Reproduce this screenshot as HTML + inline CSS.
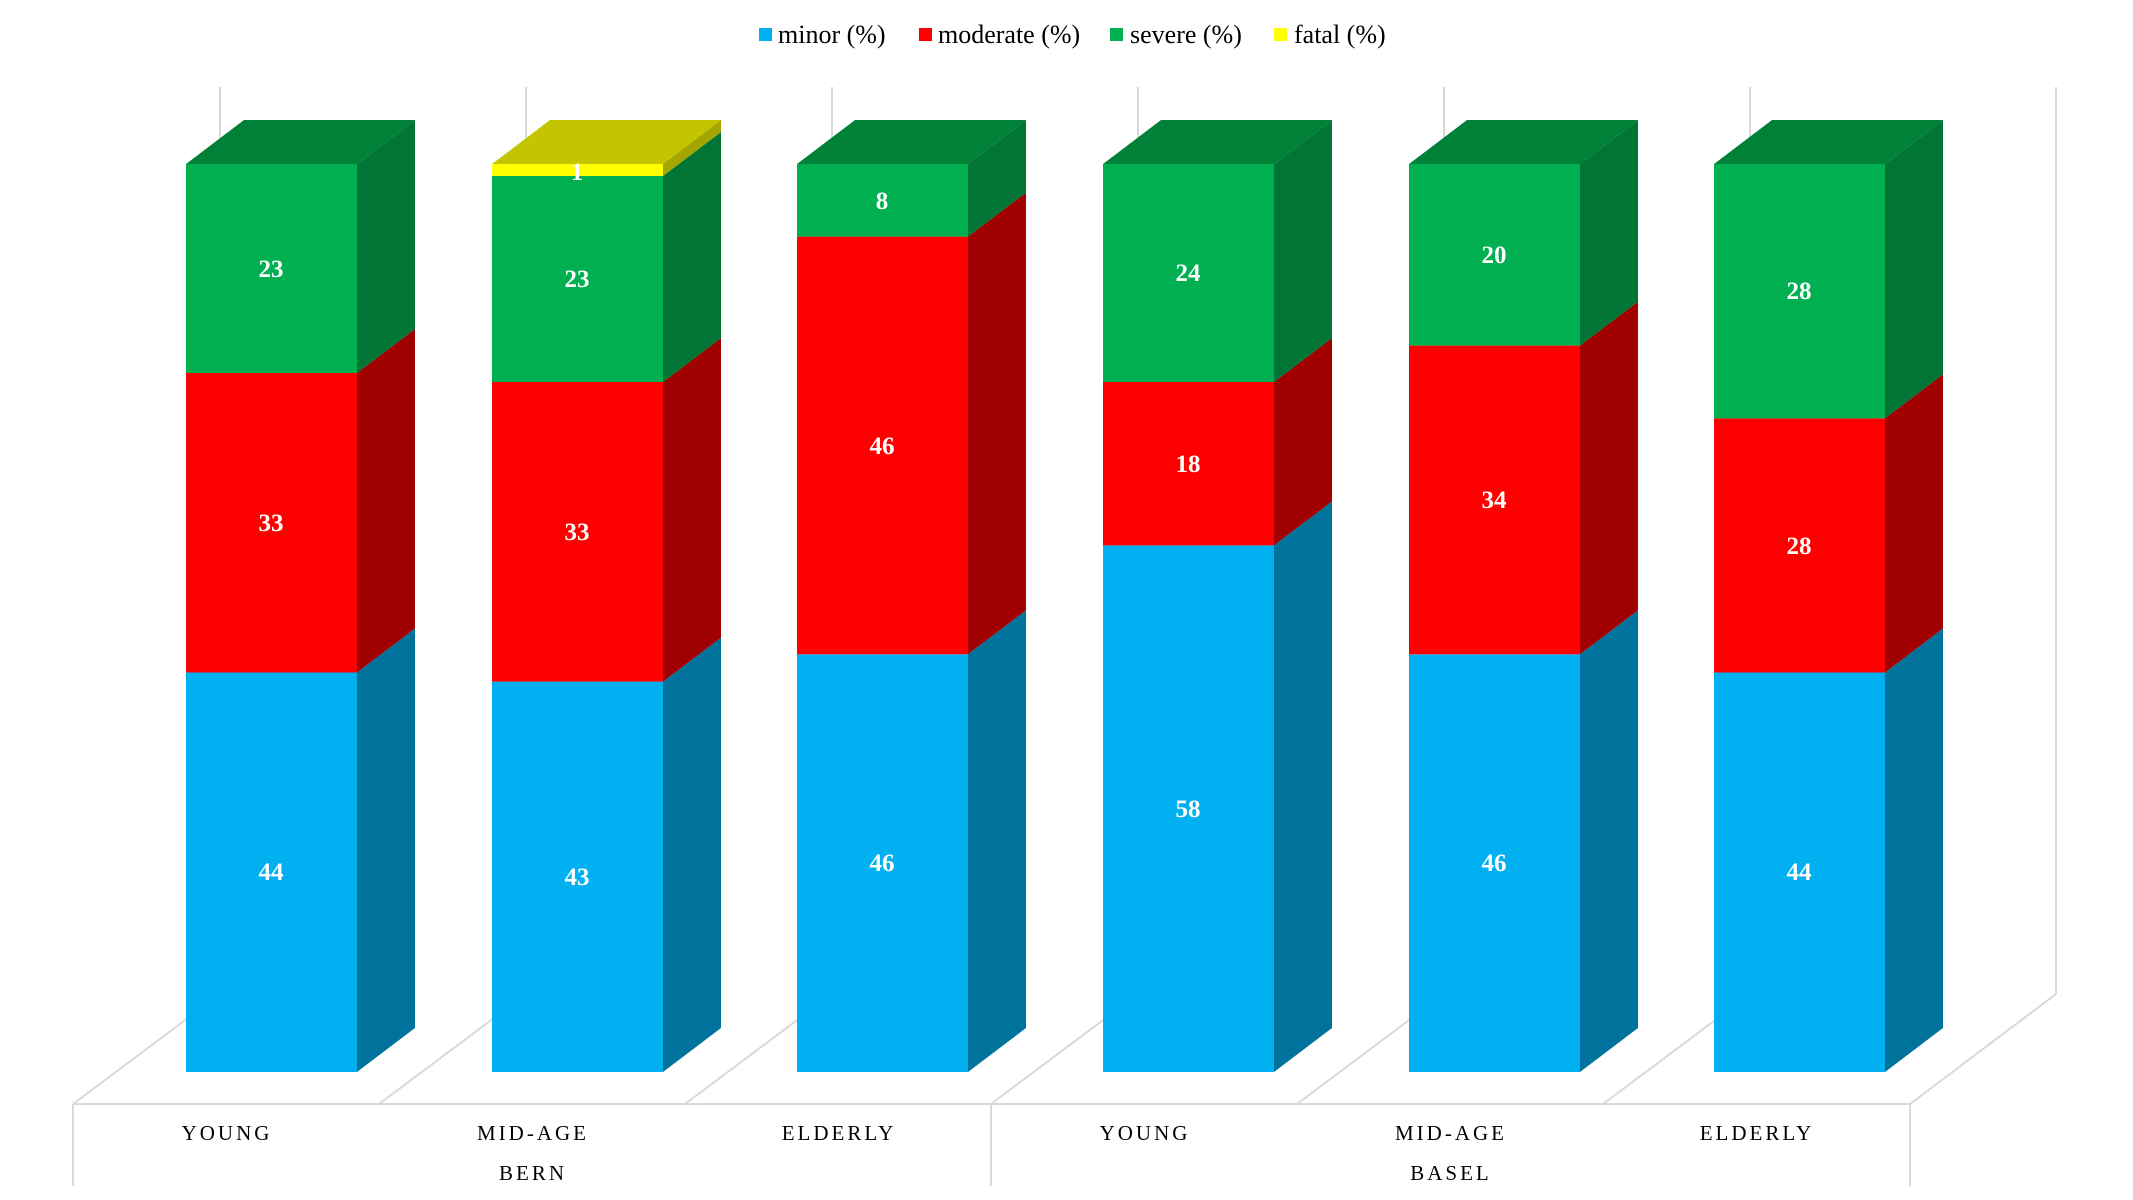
<!DOCTYPE html>
<html><head><meta charset="utf-8"><style>
html,body{margin:0;padding:0;background:#fff}
svg{display:block}
.l{font-family:"Liberation Serif",serif;font-size:26px;fill:#000}
.v{font-family:"Liberation Serif",serif;font-size:25px;font-weight:bold;fill:#fff;text-anchor:middle}
.c{font-family:"Liberation Serif",serif;font-size:21px;fill:#000;text-anchor:middle;letter-spacing:3px}
</style></head><body>
<svg width="2133" height="1200" viewBox="0 0 2133 1200" xmlns="http://www.w3.org/2000/svg">
<rect x="759" y="28" width="13" height="13" fill="#00B0F0"/><text class="l" x="778" y="43">minor (%)</text>
<rect x="919" y="28" width="13" height="13" fill="#FF0000"/><text class="l" x="938" y="43">moderate (%)</text>
<rect x="1110" y="28" width="13" height="13" fill="#00B050"/><text class="l" x="1130" y="43">severe (%)</text>
<rect x="1274" y="28" width="13" height="13" fill="#FFFF00"/><text class="l" x="1294" y="43">fatal (%)</text>
<g stroke="#d9d9d9" stroke-width="2" fill="none">
<line x1="220" y1="87" x2="220" y2="994"/><line x1="526" y1="87" x2="526" y2="994"/><line x1="832" y1="87" x2="832" y2="994"/><line x1="1138" y1="87" x2="1138" y2="994"/><line x1="1444" y1="87" x2="1444" y2="994"/><line x1="1750" y1="87" x2="1750" y2="994"/><line x1="2056" y1="87" x2="2056" y2="994"/>
<line x1="73" y1="1104" x2="220" y2="994"/><line x1="379" y1="1104" x2="526" y2="994"/><line x1="685" y1="1104" x2="832" y2="994"/><line x1="991" y1="1104" x2="1138" y2="994"/><line x1="1297" y1="1104" x2="1444" y2="994"/><line x1="1603" y1="1104" x2="1750" y2="994"/><line x1="1910" y1="1104" x2="2056" y2="994"/>
<line x1="73" y1="1104" x2="1910" y2="1104"/>
<line x1="73" y1="1104" x2="73" y2="1186"/><line x1="991" y1="1104" x2="991" y2="1186"/><line x1="1910" y1="1104" x2="1910" y2="1186"/>
</g>
<rect x="186" y="672.5" width="171" height="399.5" fill="#00B0F0"/><polygon points="357,1072 415,1028 415,628.5 357,672.5" fill="#00739C"/>
<rect x="186" y="373" width="171" height="299.5" fill="#FF0000"/><polygon points="357,672.5 415,628.5 415,329 357,373" fill="#A00000"/>
<rect x="186" y="164" width="171" height="209" fill="#00B050"/><polygon points="357,373 415,329 415,120 357,164" fill="#007535"/>
<polygon points="186,164 244,120 415,120 357,164" fill="#008138"/>
<rect x="492" y="681.6" width="171" height="390.4" fill="#00B0F0"/><polygon points="663,1072 721,1028 721,637.6 663,681.6" fill="#00739C"/>
<rect x="492" y="382" width="171" height="299.6" fill="#FF0000"/><polygon points="663,681.6 721,637.6 721,338 663,382" fill="#A00000"/>
<rect x="492" y="176" width="171" height="206" fill="#00B050"/><polygon points="663,382 721,338 721,132 663,176" fill="#007535"/>
<rect x="492" y="164" width="171" height="12" fill="#FFFF00"/><polygon points="663,176 721,132 721,120 663,164" fill="#A5A500"/>
<polygon points="492,164 550,120 721,120 663,164" fill="#C4C400"/>
<rect x="797" y="654.3" width="171" height="417.7" fill="#00B0F0"/><polygon points="968,1072 1026,1028 1026,610.3 968,654.3" fill="#00739C"/>
<rect x="797" y="236.6" width="171" height="417.7" fill="#FF0000"/><polygon points="968,654.3 1026,610.3 1026,192.6 968,236.6" fill="#A00000"/>
<rect x="797" y="164" width="171" height="72.6" fill="#00B050"/><polygon points="968,236.6 1026,192.6 1026,120 968,164" fill="#007535"/>
<polygon points="797,164 855,120 1026,120 968,164" fill="#008138"/>
<rect x="1103" y="545.4" width="171" height="526.6" fill="#00B0F0"/><polygon points="1274,1072 1332,1028 1332,501.4 1274,545.4" fill="#00739C"/>
<rect x="1103" y="382" width="171" height="163.4" fill="#FF0000"/><polygon points="1274,545.4 1332,501.4 1332,338 1274,382" fill="#A00000"/>
<rect x="1103" y="164" width="171" height="218" fill="#00B050"/><polygon points="1274,382 1332,338 1332,120 1274,164" fill="#007535"/>
<polygon points="1103,164 1161,120 1332,120 1274,164" fill="#008138"/>
<rect x="1409" y="654.3" width="171" height="417.7" fill="#00B0F0"/><polygon points="1580,1072 1638,1028 1638,610.3 1580,654.3" fill="#00739C"/>
<rect x="1409" y="345.6" width="171" height="308.7" fill="#FF0000"/><polygon points="1580,654.3 1638,610.3 1638,301.6 1580,345.6" fill="#A00000"/>
<rect x="1409" y="164" width="171" height="181.6" fill="#00B050"/><polygon points="1580,345.6 1638,301.6 1638,120 1580,164" fill="#007535"/>
<polygon points="1409,164 1467,120 1638,120 1580,164" fill="#008138"/>
<rect x="1714" y="672.5" width="171" height="399.5" fill="#00B0F0"/><polygon points="1885,1072 1943,1028 1943,628.5 1885,672.5" fill="#00739C"/>
<rect x="1714" y="418.3" width="171" height="254.2" fill="#FF0000"/><polygon points="1885,672.5 1943,628.5 1943,374.3 1885,418.3" fill="#A00000"/>
<rect x="1714" y="164" width="171" height="254.3" fill="#00B050"/><polygon points="1885,418.3 1943,374.3 1943,120 1885,164" fill="#007535"/>
<polygon points="1714,164 1772,120 1943,120 1885,164" fill="#008138"/>
<text class="v" x="271" y="880">44</text><text class="v" x="271" y="531">33</text><text class="v" x="271" y="277">23</text>
<text class="v" x="577" y="885">43</text><text class="v" x="577" y="540">33</text><text class="v" x="577" y="287">23</text><text class="v" x="577" y="180">1</text>
<text class="v" x="882" y="871">46</text><text class="v" x="882" y="454">46</text><text class="v" x="882" y="209">8</text>
<text class="v" x="1188" y="817">58</text><text class="v" x="1188" y="472">18</text><text class="v" x="1188" y="281">24</text>
<text class="v" x="1494" y="871">46</text><text class="v" x="1494" y="508">34</text><text class="v" x="1494" y="263">20</text>
<text class="v" x="1799" y="880">44</text><text class="v" x="1799" y="554">28</text><text class="v" x="1799" y="299">28</text>
<text class="c" x="227" y="1140">YOUNG</text><text class="c" x="533" y="1140">MID-AGE</text><text class="c" x="839" y="1140">ELDERLY</text>
<text class="c" x="1145" y="1140">YOUNG</text><text class="c" x="1451" y="1140">MID-AGE</text><text class="c" x="1757" y="1140">ELDERLY</text>
<text class="c" x="533" y="1180">BERN</text><text class="c" x="1451" y="1180">BASEL</text>
</svg>
</body></html>
